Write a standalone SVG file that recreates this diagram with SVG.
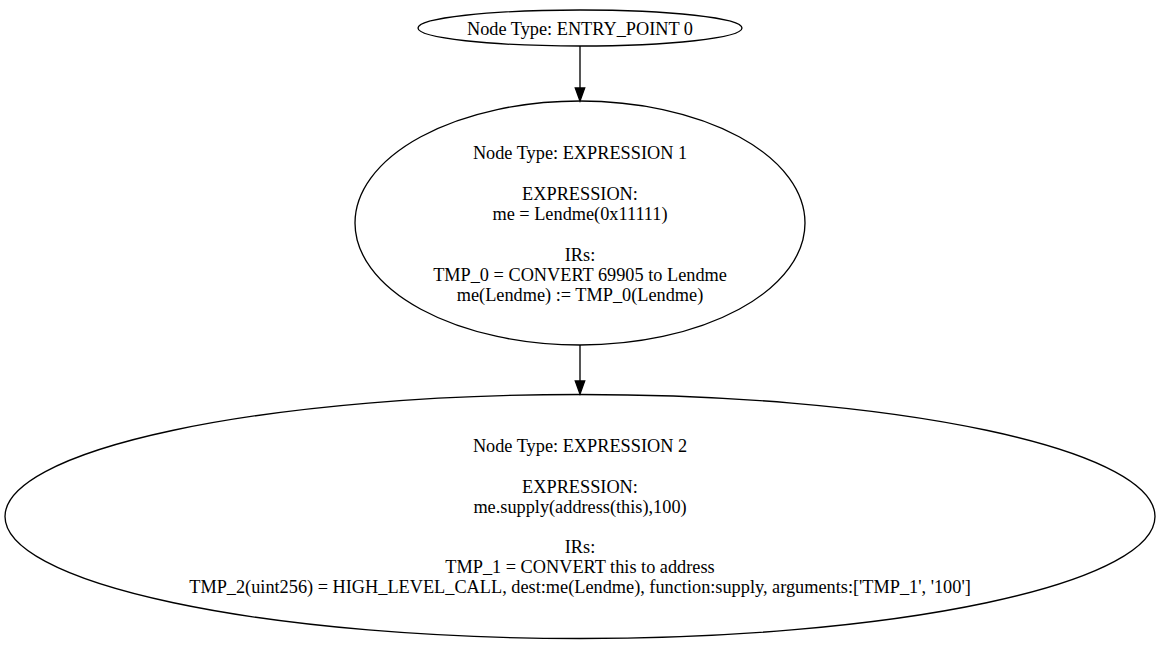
<svg xmlns="http://www.w3.org/2000/svg" width="1161" height="645" viewBox="0 0 1161 645">
<style>
  .node ellipse { fill: none; stroke: #000; stroke-width: 1.33; }
  text { font-family: "Liberation Serif", "Times New Roman", serif; font-size: 18.3px; fill: #000; text-anchor: middle; }
  .edge line { stroke: #000; stroke-width: 1.33; }
  .edge polygon { fill: #000; stroke: #000; stroke-width: 1.33; }
</style>
<rect width="1161" height="645" fill="#fff"/>
<g id="connectors" class="edge">
  <line x1="580" y1="46" x2="580" y2="88"/>
  <polygon points="575.3,88 580,101 584.7,88"/>
  <line x1="580" y1="345" x2="580" y2="381"/>
  <polygon points="575.3,381 580,394 584.7,381"/>
</g>
<g id="node0" class="node">
  <ellipse cx="580" cy="28" rx="162" ry="18"/>
  <text x="580" y="34.5">Node Type: ENTRY_POINT 0</text>
</g>
<g id="node1" class="node">
  <ellipse cx="580" cy="223" rx="225" ry="122"/>
  <text x="580" y="158.5">Node Type: EXPRESSION 1</text>
  <text x="580" y="199.5">EXPRESSION:</text>
  <text x="580" y="219.5">me = Lendme(0x11111)</text>
  <text x="580" y="260.5">IRs:</text>
  <text x="580" y="280.5">TMP_0 = CONVERT 69905 to Lendme</text>
  <text x="580" y="300.5">me(Lendme) := TMP_0(Lendme)</text>
</g>
<g id="node2" class="node">
  <ellipse cx="580" cy="516.5" rx="575" ry="122"/>
  <text x="580" y="451.5">Node Type: EXPRESSION 2</text>
  <text x="580" y="492.5">EXPRESSION:</text>
  <text x="580" y="512.5">me.supply(address(this),100)</text>
  <text x="580" y="553">IRs:</text>
  <text x="580" y="573">TMP_1 = CONVERT this to address</text>
  <text x="580" y="593">TMP_2(uint256) = HIGH_LEVEL_CALL, dest:me(Lendme), function:supply, arguments:['TMP_1', '100']</text>
</g>
</svg>
